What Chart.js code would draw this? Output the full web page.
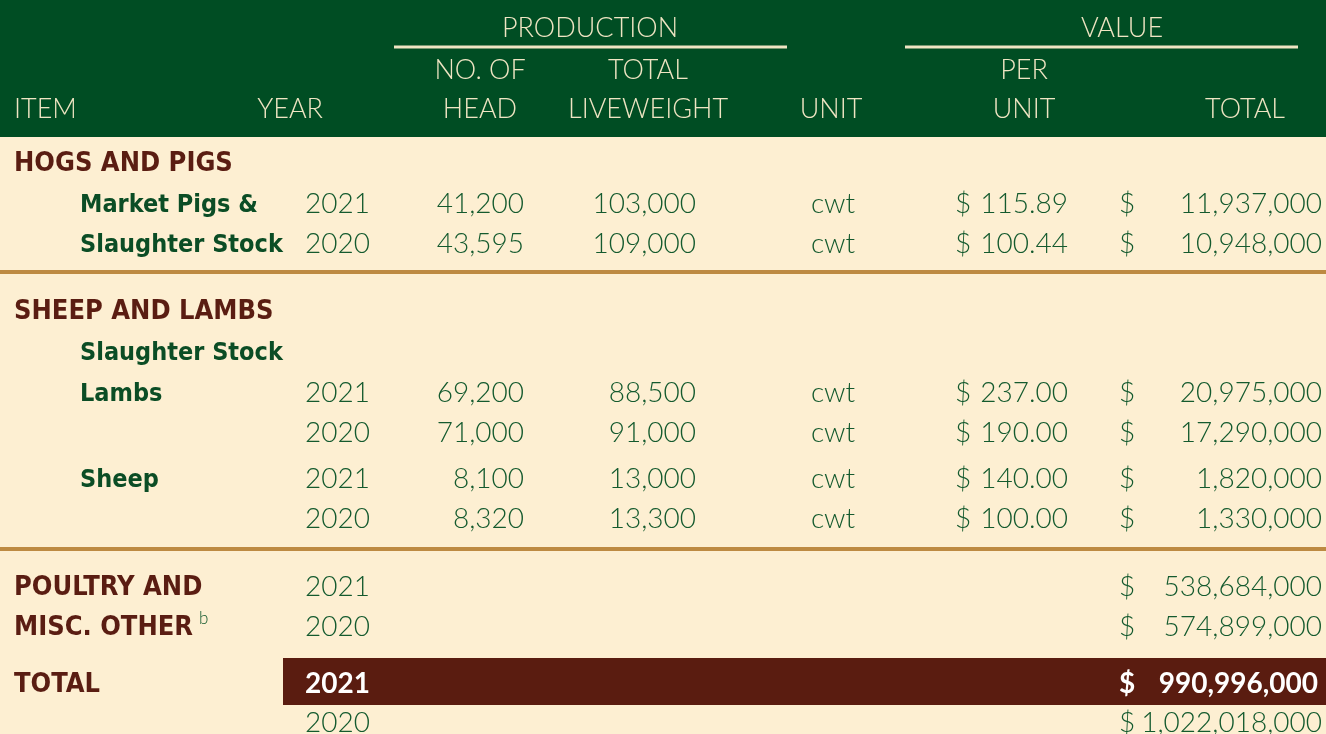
<!DOCTYPE html>
<html>
<head>
<meta charset="utf-8">
<script src="https://cdn.jsdelivr.net/npm/chart.js@4.4.1/dist/chart.umd.min.js"></script>
<style>
  html, body { margin: 0; padding: 0; background: #fdefd2; }
  canvas { display: block; }
</style>
</head>
<body>
<canvas id="livestockTable" width="1326" height="734"></canvas>
<script>
// Table data
const rowItems = ["HOGS AND PIGS", "Market Pigs &", "Slaughter Stock", "SHEEP AND LAMBS", "Slaughter Stock", "Lambs", "", "Sheep", "", "POULTRY AND", "MISC. OTHER", "TOTAL", ""];
const rowKinds = ["group", "sub", "sub", "group", "sub", "sub", "sub", "sub", "sub", "group", "group", "total", "group"];
const rowYears = ["", "2021", "2020", "", "", "2021", "2020", "2021", "2020", "2021", "2020", "2021", "2020"];
const headCounts = [null, 41200, 43595, null, null, 69200, 71000, 8100, 8320, null, null, null, null];
const liveweights = [null, 103000, 109000, null, null, 88500, 91000, 13000, 13300, null, null, null, null];
const units = ["", "cwt", "cwt", "", "", "cwt", "cwt", "cwt", "cwt", "", "", "", ""];
const perUnitValues = [null, 115.89, 100.44, null, null, 237.00, 190.00, 140.00, 100.00, null, null, null, null];
const totalValues = [null, 11937000, 10948000, null, null, 20975000, 17290000, 1820000, 1330000, 538684000, 574899000, 990996000, 1022018000];
const footnotes = ["", "", "", "", "", "", "", "", "", "", "b", "", ""];

// Layout (positions in scale units, 1 unit = 1px)
const rowY = [161, 202, 242, 309, 350, 391, 431, 477, 517, 585, 625, 682, 721];
const separatorY = [272, 549];
const col = { item: 14, sub: 80, year: 370, head: 524, live: 696, unit: 833, perDollar: 955, per: 1068, totDollar: 1119, tot: 1322 };

const LIGHT = '"Lato", "Open Sans", sans-serif';
const BOLD = '"DejaVu Sans Condensed", "Noto Sans", sans-serif';
const cream = "#fdefd2";
const headerGreen = "#004d23";
const headerText = "#efe5c3";
const green = "#145a2e";
const darkGreen = "#0b4d25";
const brown = "#5a1d12";
const gold = "#bd8a42";

const fmt = (v) => v.toLocaleString("en-US");

function txt(ctx, s, x, y, font, color, align) {
  ctx.font = font;
  ctx.fillStyle = color;
  ctx.textAlign = align || "left";
  ctx.textBaseline = "middle";
  ctx.fillText(s, x, y);
}

const tablePlugin = {
  id: "tablePlugin",
  beforeDraw(chart) {
    const { ctx, scales: { x, y } } = chart;
    const px = (v) => x.getPixelForValue(v);
    const py = (v) => y.getPixelForValue(v);
    ctx.save();
    // backgrounds
    ctx.fillStyle = cream;
    ctx.fillRect(0, 0, chart.width, chart.height);
    ctx.fillStyle = headerGreen;
    ctx.fillRect(px(0), py(0), px(1326) - px(0), py(137) - py(0));

    // header
    const hf = "300 27px " + LIGHT;
    const hy = (v) => py(v) + 2;
    txt(ctx, "PRODUCTION", px(590), hy(26), hf, headerText, "center");
    txt(ctx, "VALUE", px(1122), hy(26), hf, headerText, "center");
    ctx.strokeStyle = headerText;
    ctx.lineWidth = 3;
    ctx.beginPath();
    ctx.moveTo(px(394), py(47)); ctx.lineTo(px(787), py(47));
    ctx.moveTo(px(905), py(47)); ctx.lineTo(px(1298), py(47));
    ctx.stroke();
    txt(ctx, "NO. OF", px(480), hy(68), hf, headerText, "center");
    txt(ctx, "TOTAL", px(648), hy(68), hf, headerText, "center");
    txt(ctx, "PER", px(1024), hy(68), hf, headerText, "center");
    txt(ctx, "ITEM", px(14), hy(107), hf, headerText, "left");
    txt(ctx, "YEAR", px(323), hy(107), hf, headerText, "right");
    txt(ctx, "HEAD", px(480), hy(107), hf, headerText, "center");
    txt(ctx, "LIVEWEIGHT", px(648), hy(107), hf, headerText, "center");
    txt(ctx, "UNIT", px(831), hy(107), hf, headerText, "center");
    txt(ctx, "UNIT", px(1024), hy(107), hf, headerText, "center");
    txt(ctx, "TOTAL", px(1285), hy(107), hf, headerText, "right");

    // separators
    ctx.fillStyle = gold;
    separatorY.forEach((s) => ctx.fillRect(px(0), py(s) - 2, px(1326) - px(0), 4));

    // total highlight
    const ti = rowKinds.indexOf("total");
    ctx.fillStyle = "#5a1c10";
    ctx.fillRect(px(283), py(rowY[ti] - 24), px(1326) - px(283), py(rowY[ti] + 23) - py(rowY[ti] - 24));

    // rows
    const nf = "300 28px " + LIGHT;
    const gf = "bold 27px " + BOLD;
    const sf = "bold 25px " + BOLD;
    rowItems.forEach((item, i) => {
      const yy = py(rowY[i]) + 2;
      const ly = py(rowY[i]) + 3;
      const kind = rowKinds[i];
      const isTotal = kind === "total";
      const numFont = isTotal ? "700 28px " + LIGHT : nf;
      const numColor = isTotal ? "#ffffff" : green;
      if (item) {
        if (kind === "sub") txt(ctx, item, px(col.sub), ly, sf, darkGreen, "left");
        else txt(ctx, item, px(col.item), ly, gf, brown, "left");
        if (footnotes[i]) {
          ctx.font = gf;
          const w = ctx.measureText(item).width;
          txt(ctx, footnotes[i], px(col.item) + w + 6, ly - 9, "300 17px " + LIGHT, green, "left");
        }
      }
      if (rowYears[i]) txt(ctx, rowYears[i], px(col.year), yy, numFont, numColor, "right");
      if (headCounts[i] != null) txt(ctx, fmt(headCounts[i]), px(col.head), yy, nf, green, "right");
      if (liveweights[i] != null) txt(ctx, fmt(liveweights[i]), px(col.live), yy, nf, green, "right");
      if (units[i]) txt(ctx, units[i], px(col.unit), yy, nf, green, "center");
      if (perUnitValues[i] != null) {
        txt(ctx, "$", px(col.perDollar), yy, nf, green, "left");
        txt(ctx, perUnitValues[i].toFixed(2), px(col.per), yy, nf, green, "right");
      }
      if (totalValues[i] != null) {
        txt(ctx, "$", px(col.totDollar), yy, numFont, numColor, "left");
        txt(ctx, fmt(totalValues[i]), px(isTotal ? col.tot - 4 : col.tot), yy, numFont, numColor, "right");
      }
    });
    ctx.restore();
  }
};

new Chart(document.getElementById("livestockTable"), {
  type: "scatter",
  data: { datasets: [{ data: [], pointRadius: 0 }] },
  options: {
    responsive: false,
    animation: false,
    devicePixelRatio: 1,
    layout: { padding: 0 },
    scales: {
      x: { type: "linear", min: 0, max: 1326, display: false },
      y: { type: "linear", min: 0, max: 734, reverse: true, display: false }
    },
    plugins: { legend: { display: false }, tooltip: { enabled: false } }
  },
  plugins: [tablePlugin]
});
</script>
</body>
</html>
